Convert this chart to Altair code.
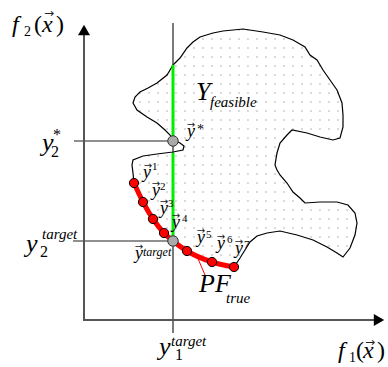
import altair as alt
import pandas as pd
import numpy as np

# ---- data in objective-space units (f1, f2) ----
# feasible region boundary, traced clockwise from the top crossing of f1 = y1_target
boundary_f1 = [89, 96, 103, 109, 116, 129, 139, 159, 179, 196, 209, 221, 226, 233, 239, 246, 253, 258,
               259, 259, 256, 249, 236, 223, 208, 203, 196, 193, 191, 193, 196, 203, 209, 216, 221, 236,
               253, 264, 271, 273, 271, 266, 259, 253, 243, 229, 213, 196, 183, 173, 166, 161, 156, 150,
               128, 103, 90, 80, 69, 59, 50, 49, 48, 49, 59, 73, 89, 99, 100, 96, 89, 86, 81, 73, 63,
               53, 49, 51, 56, 64, 73, 83, 89]
boundary_f2 = [255, 262, 272, 278, 283, 287, 289, 291, 288, 285, 280, 273, 265, 260, 250, 240, 230, 217,
               205, 193, 182, 180, 183, 187, 190, 185, 177, 167, 155, 150, 145, 137, 128, 122, 117, 118,
               118, 115, 107, 97, 85, 72, 63, 67, 73, 80, 85, 89, 87, 84, 78, 70, 62, 53,
               58, 69, 79, 87, 101, 118, 137, 147, 155, 160, 164, 166, 168, 170, 174, 177, 180, 185, 190, 197, 203,
               210, 217, 223, 228, 232, 237, 245, 255]

# true Pareto front points
pf_names = ["y1", "y2", "y3", "y4", "target", "y5", "y6", "y7"]
pf_f1 = [50, 59, 69, 80, 89, 103, 128, 150]
pf_f2 = [137, 118, 101, 87, 79, 69, 58, 53]

y1_target = 89
y2_target = 79
y2_star = 179

# ---- labels ----
ital_text = ["f", "x", "f", "x", "y", "y", "target", "y", "target", "Y", "feasible", "PF", "true",
             "y", "y", "y", "y", "y", "y", "y", "y", "y", "target"]
ital_f1 = [-72, -42, 254, 279, -42, -58, -42, 75, 87, 112, 126, 115, 142,
           59, 68, 76, 88, 51, 113, 133, 151, 103, 59]
ital_f2 = [288, 288, -38, -38, 169, 68, 81, -35, -26, 220, 213, 28, 17,
           142, 124, 106, 92, 61, 77, 71, 66, 183, 64]
ital_size = [24, 24, 24, 24, 26, 26, 15, 26, 15, 26, 15, 26, 15,
             18, 18, 18, 18, 18, 18, 18, 18, 18, 12]

norm_text = ["2", "(", ")", "1", "(", ")", "2", "*", "2", "1",
             "1", "2", "3", "4", "5", "6", "7", "*"]
norm_f1 = [-60, -50, -28, 265, 272, 293, -33, -31, -44, 91,
           68, 76, 84, 98, 122, 143, 160, 113]
norm_f2 = [284, 288, 288, -42, -38, -38, 163, 180, 63, -40,
           150, 130, 113, 98, 82, 77, 72, 186]
norm_size = [14, 24, 24, 14, 24, 24, 16, 16, 16, 16,
             11, 11, 11, 11, 11, 11, 11, 14]

vec_f1 = [-35, 286, 64, 72, 80, 92, 55, 117, 137, 155, 107]
vec_f2 = [307, -22, 154, 136, 118, 104, 73, 89, 83, 78, 195]
vec_size = [12, 12, 10, 10, 10, 10, 10, 10, 10, 10, 10]

# ---- tables ----
bnd = pd.DataFrame({"f1": boundary_f1, "f2": boundary_f2, "i": range(len(boundary_f1))})
pf = pd.DataFrame({"name": pf_names, "f1": pf_f1, "f2": pf_f2})
pf_red = pf[pf.name != "target"]
special = pd.DataFrame({"f1": [y1_target, y1_target], "f2": [y2_star, y2_target]})

# dotted texture inside the feasible region
poly = np.column_stack([boundary_f1, boundary_f2]).astype(float)
gx, gy = np.meshgrid(np.arange(2, 300, 9.0), np.arange(2, 300, 9.0))
px, py = gx.ravel(), gy.ravel()
inside = np.zeros(px.shape, bool)
n = len(poly)
for k in range(n - 1):
    x1, y1 = poly[k]
    x2, y2 = poly[k + 1]
    cond = ((y1 > py) != (y2 > py))
    with np.errstate(divide="ignore", invalid="ignore"):
        xint = (x2 - x1) * (py - y1) / (y2 - y1) + x1
    inside ^= cond & (px < xint)
dots = pd.DataFrame({"f1": px[inside], "f2": py[inside]})

X = alt.Scale(domain=[-84, 304], nice=False, zero=False)
Y = alt.Scale(domain=[-47, 320], nice=False, zero=False)


def xe(f="f1"):
    return alt.X(f"{f}:Q", scale=X, axis=None)


def ye(f="f2"):
    return alt.Y(f"{f}:Q", scale=Y, axis=None)


layers = []
layers.append(alt.Chart(dots).mark_circle(size=2.5, color="#a8a8a8", opacity=1).encode(x=xe(), y=ye()))
layers.append(alt.Chart(bnd).mark_line(color="black", strokeWidth=1.2).encode(x=xe(), y=ye(), order="i:Q"))

# reference lines
rules = pd.DataFrame({
    "a": [y1_target, -10, -11], "b": [y1_target, y1_target, y1_target],
    "c": [-13, y2_star, y2_target], "d": [297, y2_star, y2_target]})
layers.append(alt.Chart(rules).mark_rule(color="#222", strokeWidth=1.2).encode(
    x=xe("a"), x2="b:Q", y=ye("c"), y2="d:Q"))

# axes
axes = pd.DataFrame({"a": [0, -1], "b": [0, 291], "c": [0, 0], "d": [286, 0]})
layers.append(alt.Chart(axes).mark_rule(color="#555", strokeWidth=2).encode(
    x=xe("a"), x2="b:Q", y=ye("c"), y2="d:Q"))
heads = pd.DataFrame({"f1": [0, 295], "f2": [290, 0], "s": ["triangle-up", "triangle-right"]})
layers.append(alt.Chart(heads).mark_point(filled=True, color="black", size=144, opacity=1).encode(
    x=xe(), y=ye(), shape=alt.Shape("s:N", scale=None, legend=None)))

# green segment
green = pd.DataFrame({"a": [y1_target, y1_target], "c": [255, 167], "d": [184, 84]})
layers.append(alt.Chart(green).mark_rule(color="#00ee00", strokeWidth=3).encode(
    x=xe("a"), y=ye("c"), y2="d:Q"))

# Pareto front
layers.append(alt.Chart(pf).mark_line(color="#ff0000", strokeWidth=5, interpolate="monotone").encode(
    x=xe(), y=ye()))
ptr = pd.DataFrame({"a": [112], "b": [121], "c": [66], "d": [45]})
layers.append(alt.Chart(ptr).mark_rule(color="#ff0000", strokeWidth=1).encode(
    x=xe("a"), x2="b:Q", y=ye("c"), y2="d:Q"))
layers.append(alt.Chart(pf_red).mark_point(filled=True, fill="#ff0000", stroke="black", strokeWidth=1,
                                           size=85, shape="circle", opacity=1).encode(x=xe(), y=ye()))
layers.append(alt.Chart(special).mark_point(filled=True, fill="#aaaaaa", stroke="#333", strokeWidth=1,
                                            size=110, shape="circle", opacity=1).encode(x=xe(), y=ye()))

# texts
it = pd.DataFrame({"t": ital_text, "f1": ital_f1, "f2": ital_f2, "s": ital_size})
nt = pd.DataFrame({"t": norm_text, "f1": norm_f1, "f2": norm_f2, "s": norm_size})
vt = pd.DataFrame({"t": ["→"] * len(vec_f1), "f1": vec_f1, "f2": vec_f2, "s": vec_size})
layers.append(alt.Chart(it).mark_text(font="Liberation Serif", fontStyle="italic", align="left",
                                      baseline="alphabetic", color="black").encode(
    x=xe(), y=ye(), text="t:N", size=alt.Size("s:Q", scale=None, legend=None)))
layers.append(alt.Chart(nt).mark_text(font="Liberation Serif", align="left",
                                      baseline="alphabetic", color="black").encode(
    x=xe(), y=ye(), text="t:N", size=alt.Size("s:Q", scale=None, legend=None)))
layers.append(alt.Chart(vt).mark_text(font="DejaVu Sans", align="center",
                                      baseline="middle", color="#222").encode(
    x=xe(), y=ye(), text="t:N", size=alt.Size("s:Q", scale=None, legend=None)))

chart = alt.layer(*layers).properties(
    width=388, height=367, padding=0, autosize=alt.AutoSizeParams(type="none"),
    background="white"
).configure_view(stroke=None)

chart.save("out.html", embed_options={"renderer": "svg", "actions": False})
